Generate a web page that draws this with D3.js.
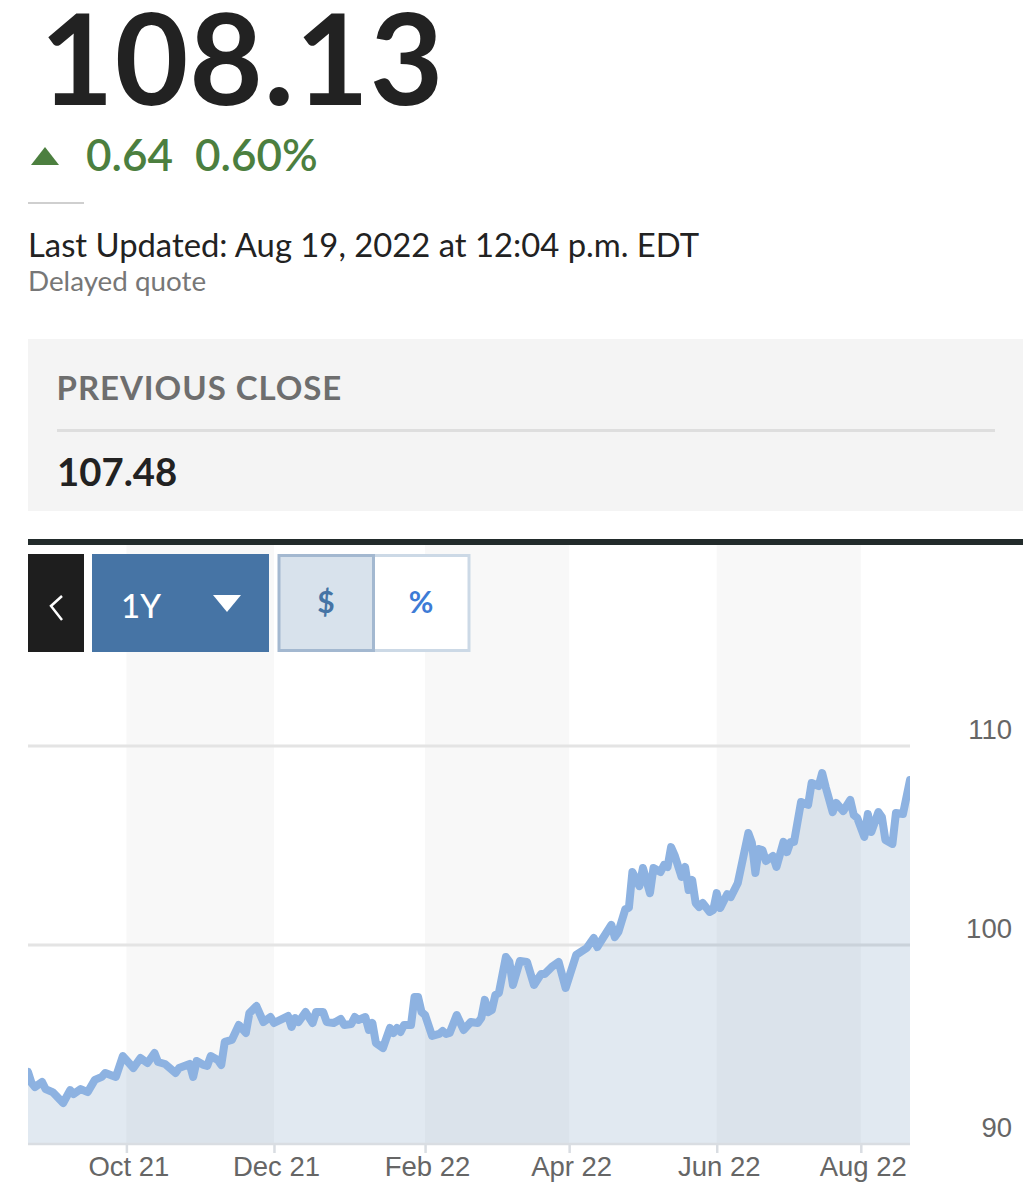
<!DOCTYPE html>
<html>
<head>
<meta charset="utf-8">
<script src="https://cdn.jsdelivr.net/npm/d3@7"></script>
<style>
  html, body { margin: 0; padding: 0; background: #fff; }
  svg { display: block; }
  text { font-family: Lato, sans-serif; }
  .axis text { font-family: "Liberation Sans", Arial, sans-serif; font-size: 27.5px; fill: #666; }
  .axis path { display: none; }
</style>
</head>
<body>
<svg width="1032" height="1200"></svg>
<script>
// session number (0 = first trading day shown) and price
var sessions = [0,1,2,4,5,7,10,12,13,15,17,19,21,22,25,27,30,32,34,36,37,39,42,43,46,47,48,50,51,52,54,55,56,58,60,62,63,65,67,69,70,74,75,76,77,79,81,82,84,85,87,89,90,
  92,93,94,96,97,98,99,101,103,104,105,106,107,109,110,111,112,113,115,117,118,119,120,122,124,126,128,129,130,131,132,133,134,136,137,138,140,142,144,146,147,149,151,153,156,159,161,162,166,167,168,
  170,171,172,174,175,177,178,180,181,182,183,184,186,187,188,189,190,191,192,194,195,196,197,199,200,202,205,206,207,208,209,210,212,213,215,216,217,218,220,222,223,225,226,227,229,230,232,234,235,236,238,239,240,242,243,244,246,247,249,251];
var prices = [93.62,93.07,92.86,93.12,92.76,92.61,92.06,92.71,92.51,92.76,92.61,93.22,93.37,93.57,93.37,94.42,93.82,94.32,94.07,94.57,94.12,94.02,93.57,93.82,94.02,93.37,94.17,93.97,93.92,94.42,94.22,93.97,95.13,95.23,95.98,95.58,96.58,96.93,96.13,96.38,96.08,96.43,95.88,96.33,96.13,96.63,96.08,96.63,96.63,96.13,96.08,96.28,95.98,
  96.03,96.38,96.23,96.38,95.73,96.08,95.08,94.82,95.83,95.58,95.83,95.63,95.98,95.98,97.39,97.39,96.63,96.48,95.43,95.53,95.68,95.53,95.58,96.48,95.73,96.13,96.08,96.33,97.24,96.63,96.73,97.49,97.59,99.40,99.15,97.99,99.20,99.15,97.99,98.54,98.54,98.89,99.15,97.84,99.50,99.85,100.35,99.90,101.01,100.40,100.65,
  101.81,101.86,103.67,102.96,103.87,102.61,103.87,103.67,104.02,103.92,104.92,104.52,103.42,103.92,102.76,103.27,102.11,101.91,102.11,101.66,101.76,102.61,101.86,102.56,102.41,103.12,105.63,105.13,103.62,104.82,104.77,104.22,104.47,103.92,105.18,104.67,105.18,105.18,107.19,107.04,108.14,107.99,108.64,107.94,106.68,107.14,106.73,107.29,106.53,106.38,105.43,106.58,105.68,106.68,106.43,105.28,105.08,106.63,106.58,108.29];

var tickSessions = [28,70,113,154,196,237];
var tickLabels = ["Oct 21","Dec 21","Feb 22","Apr 22","Jun 22","Aug 22"];
var yTicks = [90,100,110];
var bandStarts = [0,2,4];

var svg = d3.select("svg"),
    plotLeft = 28, plotRight = 910, plotTop = 746, plotBottom = 1144;

var x = d3.scaleLinear().domain([0,251]).range([plotLeft,plotRight]),
    y = d3.scaleLinear().domain([90,110]).range([plotBottom,plotTop]);

var points = sessions.map(function(s,i) { return {s:s, p:prices[i]}; });

// alternating bands behind the plot
svg.selectAll(".band")
    .data(bandStarts)
  .enter().append("rect")
    .attr("class","band")
    .attr("x", function(d) { return x(tickSessions[d]); })
    .attr("y", 545)
    .attr("width", function(d) { return x(tickSessions[d+1]) - x(tickSessions[d]); })
    .attr("height", plotBottom - 545)
    .attr("fill", "#f8f8f8");

svg.selectAll(".grid")
    .data([100,110])
  .enter().append("line")
    .attr("class","grid")
    .attr("x1", plotLeft).attr("x2", plotRight)
    .attr("y1", function(d) { return y(d); })
    .attr("y2", function(d) { return y(d); })
    .attr("stroke", "#e4e4e4")
    .attr("stroke-width", 3);

svg.append("clipPath").attr("id","plot")
  .append("rect").attr("x",plotLeft).attr("y",plotTop-30).attr("width",plotRight-plotLeft).attr("height",plotBottom-plotTop+30);

var area = d3.area().x(function(d) { return x(d.s); }).y0(plotBottom).y1(function(d) { return y(d.p); }),
    line = d3.line().x(function(d) { return x(d.s); }).y(function(d) { return y(d.p); });

var plot = svg.append("g").attr("clip-path","url(#plot)");
plot.append("path").datum(points)
    .attr("d", area)
    .attr("fill", "#4674a5")
    .attr("fill-opacity", 0.16);
plot.append("path").datum(points)
    .attr("d", line)
    .attr("fill", "none")
    .attr("stroke", "#8db2e1")
    .attr("stroke-width", 8)
    .attr("stroke-linejoin", "round")
    .attr("stroke-linecap", "round");

// axes
var xAxis = svg.append("g")
    .attr("class","axis")
    .attr("transform","translate(0,"+plotBottom+")")
    .call(d3.axisBottom(x).tickValues(tickSessions).tickSize(9).tickPadding(3)
      .tickFormat(function(d,i) { return tickLabels[i]; }));
xAxis.selectAll("line").attr("stroke","#d9dde2").attr("stroke-width",2.5);
xAxis.selectAll("text").attr("dx","2");

var yAxis = svg.append("g")
    .attr("class","axis")
    .attr("transform","translate(1012,0)")
    .call(d3.axisLeft(y).tickValues(yTicks).tickSize(0).tickPadding(0));
yAxis.selectAll("text").attr("y",-16);

svg.append("line")
    .attr("x1",plotLeft).attr("x2",plotRight).attr("y1",plotBottom).attr("y2",plotBottom)
    .attr("stroke","#d9dde2").attr("stroke-width",2.5);

// quote header
function label(txt, px, py, size, color, weight, spacing) {
  return svg.append("text").attr("x",px).attr("y",py)
      .attr("font-size",size).attr("fill",color)
      .attr("font-weight",weight||400)
      .attr("letter-spacing",spacing||0)
      .text(txt);
}
label("108.13", 40, 105, 127, "#222", 700, 1);
svg.append("path").attr("d","M31,165L45,147L59,165Z").attr("fill","#4c7f3f");
label("0.64", 86, 171, 44, "#4c7f3f", 600);
label("0.60%", 195, 171, 44, "#4c7f3f", 600);
svg.append("rect").attr("x",28).attr("y",202).attr("width",56).attr("height",2).attr("fill","#cfcfcf");
label("Last Updated: Aug 19, 2022 at 12:04 p.m. EDT", 28, 257, 32.8, "#222");
label("Delayed quote", 28, 291, 27.8, "#777");

// previous close box
svg.append("rect").attr("x",28).attr("y",339).attr("width",995).attr("height",172).attr("fill","#f4f4f4");
label("PREVIOUS CLOSE", 56.5, 400, 33, "#6e6e6e", 700, 0.95);
svg.append("rect").attr("x",57).attr("y",429).attr("width",938).attr("height",3).attr("fill","#dedede");
label("107.48", 57, 486, 38.3, "#222", 700);

// toolbar
svg.append("rect").attr("x",28).attr("y",539).attr("width",995).attr("height",6).attr("fill","#222b2b");
svg.append("rect").attr("x",28).attr("y",554).attr("width",56).attr("height",98).attr("fill","#1e1e1e");
svg.append("path").attr("d","M62,596L51,606L62,620").attr("fill","none").attr("stroke","#fff").attr("stroke-width",2.5);
svg.append("rect").attr("x",92).attr("y",554).attr("width",177).attr("height",98).attr("fill","#4674a5");
label("1Y", 121, 618, 33, "#fff", 500);
svg.append("path").attr("d","M213,595L241,595L227,612Z").attr("fill","#fff");
svg.append("rect").attr("x",373.5).attr("y",555.5).attr("width",95.5).attr("height",95).attr("fill","#fff").attr("stroke","#ccd9e6").attr("stroke-width",3);
svg.append("rect").attr("x",279).attr("y",555.5).attr("width",94.5).attr("height",95).attr("fill","#d8e2ec").attr("stroke","#a3b8d0").attr("stroke-width",3);
label("$", 326, 613, 30, "#4674a5", 700).attr("text-anchor","middle");
label("%", 421, 613, 30, "#3d7bd6", 700).attr("text-anchor","middle");
</script>
</body>
</html>
